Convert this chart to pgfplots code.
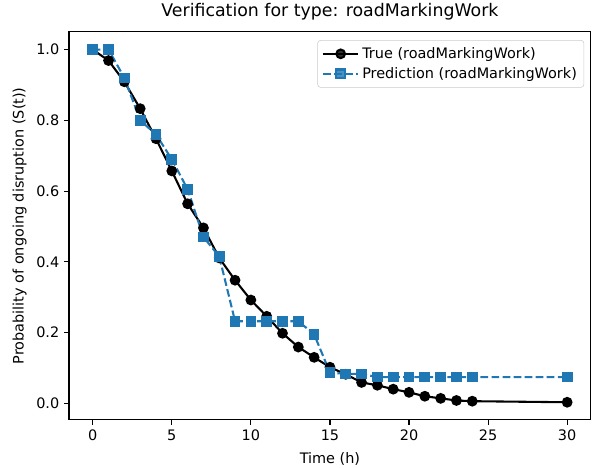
\documentclass[border=0pt]{standalone}
\usepackage{pgfplots}
\pgfplotsset{compat=1.18}
\usepackage{fontspec}
\setmainfont{DejaVu Sans}
\definecolor{mplblue}{HTML}{1F77B4}
\pgfplotstableread{
t s
0 1.000
1 0.969
2 0.909
3 0.833
4 0.748
5 0.657
6 0.564
7 0.496
8 0.411
9 0.348
10 0.292
11 0.246
12 0.198
13 0.159
14 0.130
15 0.102
16 0.082
17 0.059
18 0.051
19 0.040
20 0.031
21 0.020
22 0.014
23 0.008
24 0.006
30 0.003
}\truetab
\pgfplotstableread{
t s
0 1.000
1 1.000
2 0.920
3 0.800
4 0.760
5 0.690
6 0.605
7 0.470
8 0.415
9 0.232
10 0.232
11 0.232
12 0.232
13 0.232
14 0.195
15 0.087
16 0.083
17 0.083
18 0.074
19 0.074
20 0.074
21 0.074
22 0.074
23 0.074
24 0.074
30 0.074
}\predtab
\begin{document}
\begin{tikzpicture}
\useasboundingbox (-49.7pt,-34.6pt) rectangle (376.6pt,302.4pt);
\begin{axis}[
  scale only axis, width=375.8pt, height=279.4pt,
  at={(0,0)}, anchor=south west,
  xmin=-1.5, xmax=31.5, ymin=-0.047, ymax=1.0499,
  xtick={0,5,10,15,20,25,30},
  ytick={0,0.2,0.4,0.6,0.8,1.0},
  yticklabel style={/pgf/number format/.cd, fixed, fixed zerofill, precision=1},
  /pgf/number format/assume math mode=true,
  tick align=outside, major tick length=3.5pt, tick pos=left,
  every tick/.style={black, line width=0.8pt},
  axis line style={line width=0.8pt},
  title={Verification for type: roadMarkingWork},
  title style={font=\fontsize{12.5}{14}\selectfont, yshift=-1pt},
  xlabel={Time (h)},
  ylabel={Probability of ongoing disruption (S(t))},
  xlabel style={yshift=-1.5pt},
  label style={font=\fontsize{10.4}{12}\selectfont},
  tick label style={font=\fontsize{10.4}{12}\selectfont},
  legend style={at={(0.987,0.979)}, anchor=north east, draw=black!20,
    rounded corners=2pt, fill=white, fill opacity=0.8, text opacity=1,
    font=\fontsize{10.4}{12}\selectfont, row sep=1pt, inner sep=3pt},
  legend cell align=left,
  legend image code/.code={\draw[mark repeat=2,mark phase=2] plot coordinates {(0cm,0cm) (0.45cm,0cm) (0.9cm,0cm)};},
]
\addplot[black, line width=1.5pt, mark=*, mark size=3.1pt, mark options={solid}] table[x=t,y=s] {\truetab};
\addlegendentry{True (roadMarkingWork)}
\addplot[mplblue, line width=1.5pt, dash pattern=on 5.55pt off 2.4pt, mark=square*, mark size=3.1pt, mark options={solid}] table[x=t,y=s] {\predtab};
\addlegendentry{Prediction (roadMarkingWork)}
\end{axis}
\end{tikzpicture}
\end{document}
